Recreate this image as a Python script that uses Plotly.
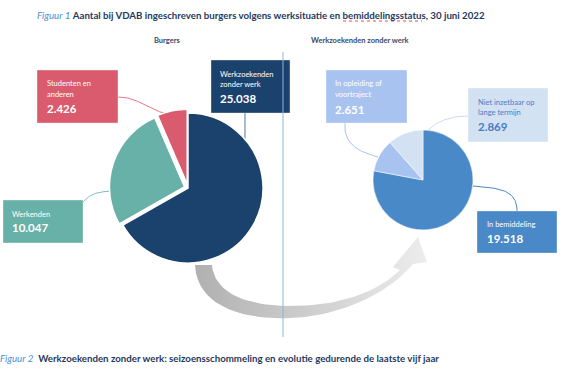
import numpy as np
import plotly.graph_objects as go

W, H = 568, 372

# ---- data ----
burgers_labels = ["Werkzoekenden zonder werk", "Werkenden", "Studenten en anderen"]
burgers_values = [25038, 10047, 2426]
burgers_colors = ["#1b426d", "#67b1a8", "#d95b6d"]

wz_labels = ["In bemiddeling", "In opleiding of voortraject", "Niet inzetbaar op lange termijn"]
wz_values = [19518, 2651, 2869]
wz_colors = ["#4a89c8", "#a9c3f0", "#d2e2f3"]

FONT = "Lato"

def fmt(v):
    return f"{v:,}".replace(",", ".")

def bez(p0, p1, p2, p3, n=30):
    t = np.linspace(0, 1, n)[:, None]
    p = (1-t)**3*np.array(p0) + 3*(1-t)**2*t*np.array(p1) + 3*(1-t)*t**2*np.array(p2) + t**3*np.array(p3)
    return p[:, 0], p[:, 1]

fig = go.Figure()

def dom(cx, cy, half):
    return dict(x=[(cx-half)/W, (cx+half)/W], y=[1-(cy+half)/H, 1-(cy-half)/H])

# gray arrow
segs = [
    ((195,265),(197,305),(240,320),(290,318)),
    ((290,318),(345,316),(392,290),(413,264)),
]
xs, ys = [], []
for s in segs:
    bx, by = bez(*s); xs += list(bx); ys += list(by)
for px, py in [(427,262),(418,237),(393,267),(400,270)]:
    xs.append(px); ys.append(py)
for s in [((400,270),(378,292),(340,306),(290,306)), ((290,306),(245,306),(214,292),(212,265))]:
    bx, by = bez(*s); xs += list(bx); ys += list(by)
fig.add_trace(go.Scatter(x=xs, y=ys, mode="lines", fill="toself", line=dict(width=0, color="rgba(0,0,0,0)"),
                         fillgradient=dict(type="horizontal", colorscale=[[0, "#b0b0b0"], [1, "#ededed"]]),
                         hoverinfo="skip", showlegend=False))

# connectors
conns = [
    (((118,97),(140,97),(150,112),(166,113)), "#e07a88"),
    (((245,113),(245,125),(247,133),(244,142)), "#5577a5"),
    (((83,202),(92,192),(100,192),(112,191)), "#7fc0b8"),
    (((345,123),(343,145),(360,152),(378,157)), "#a9c3f0"),
    (((468,116),(445,116),(430,125),(423,137)), "#c9dbf0"),
    (((473,186),(500,188),(517,190),(517,211)), "#4a89c8"),
]
for pts, c in conns:
    bx, by = bez(*pts)
    fig.add_trace(go.Scatter(x=bx, y=by, mode="lines", line=dict(color=c, width=1), hoverinfo="skip", showlegend=False))

pull = 0.05
fig.add_trace(go.Pie(labels=burgers_labels, values=burgers_values, sort=False, direction="clockwise", rotation=0,
                     marker=dict(colors=burgers_colors, line=dict(color="white", width=1.5)),
                     pull=[0, pull, pull], textinfo="none", hoverinfo="label+value", showlegend=False,
                     domain=dom(188, 188, 75*(1+pull))))
fig.add_trace(go.Pie(labels=wz_labels, values=wz_values, sort=False, direction="clockwise", rotation=0,
                     marker=dict(colors=wz_colors, line=dict(color="white", width=0.5)),
                     textinfo="none", hoverinfo="label+value", showlegend=False,
                     domain=dom(423, 180, 50)))

shapes = []
annotations = []

def box(x0, x1, y0, y1, color, lines, value, tx, ly, vy, tcolor="white"):
    shapes.append(dict(type="rect", xref="x", yref="y", x0=x0, x1=x1, y0=y0, y1=y1,
                       fillcolor=color, line=dict(width=0.6, color="rgba(255,255,255,0.6)"), layer="above"))
    for t, y in zip(lines, ly):
        annotations.append(dict(xref="x", yref="y", x=tx, y=y, text=t, showarrow=False, xanchor="left",
                                yanchor="middle", font=dict(family=FONT, size=7.5, color=tcolor)))
    annotations.append(dict(xref="x", yref="y", x=tx, y=vy, text=f"<b>{fmt(value)}</b>", showarrow=False,
                            xanchor="left", yanchor="middle", font=dict(family=FONT, size=11.5, color=tcolor)))

box(37, 118, 70, 123, burgers_colors[2], ["Studenten en", "anderen"], burgers_values[2], 45, [83, 94], 108)
box(211, 290, 60, 113, burgers_colors[0], ["Werkzoekenden", "zonder werk"], burgers_values[0], 218, [74, 84], 98)
box(3, 83, 200, 243, burgers_colors[1], ["Werkenden"], burgers_values[1], 10, [214], 227)
box(326, 407, 70, 123, wz_colors[1], ["In opleiding of", "voortraject"], wz_values[1], 333, [83, 94], 109)
box(468, 548, 88, 142, wz_colors[2], ["Niet inzetbaar op", "lange termijn"], wz_values[2], 476, [102, 112], 126,
    tcolor="#4a7cc4")
box(477, 557, 211, 253, wz_colors[0], ["In bemiddeling"], wz_values[0], 485, [224], 238)

# divider
shapes.append(dict(type="line", xref="x", yref="y", x0=283, x1=283, y0=52, y1=337, line=dict(color="#8fb3de", width=1)))
# spell-check underline
shapes.append(dict(type="line", xref="x", yref="y", x0=343, x1=422, y0=21, y1=21, line=dict(color="#e05050", width=1, dash="dot")))

annotations.append(dict(xref="x", yref="y", x=261, y=15, showarrow=False, xanchor="center", yanchor="middle",
                        text="<i><span style='color:#4a8fd4'>Figuur 1</span></i> <b>Aantal bij VDAB ingeschreven burgers volgens werksituatie en bemiddelingsstatus, 30 juni 2022</b>",
                        font=dict(family=FONT, size=9.7, color="#1f3a60")))
annotations.append(dict(xref="x", yref="y", x=167, y=40, showarrow=False, text="<b>Burgers</b>",
                        font=dict(family=FONT, size=7.5, color="#3a4a6a")))
annotations.append(dict(xref="x", yref="y", x=360, y=40, showarrow=False, text="<b>Werkzoekenden zonder werk</b>",
                        font=dict(family=FONT, size=7.5, color="#3a4a6a")))
annotations.append(dict(xref="paper", yref="y", x=-2/W, y=358, showarrow=False, xanchor="left", yanchor="middle",
                        text="<i><span style='color:#4a8fd4'>Figuur 2</span></i>  <b>Werkzoekenden zonder werk: seizoensschommeling en evolutie gedurende de laatste vijf jaar</b>",
                        font=dict(family=FONT, size=9.7, color="#1f3a60")))

fig.update_layout(width=W, height=H, margin=dict(l=0, r=0, t=0, b=0), paper_bgcolor="white", plot_bgcolor="white",
                  xaxis=dict(range=[0, W], visible=False, fixedrange=True, domain=[0, 1]),
                  yaxis=dict(range=[H, 0], visible=False, fixedrange=True, domain=[0, 1]),
                  shapes=shapes, annotations=annotations)
fig.write_html("out.html", config={"displayModeBar": False},
               post_script="document.body.style.margin='0';document.body.style.overflow='hidden';")
